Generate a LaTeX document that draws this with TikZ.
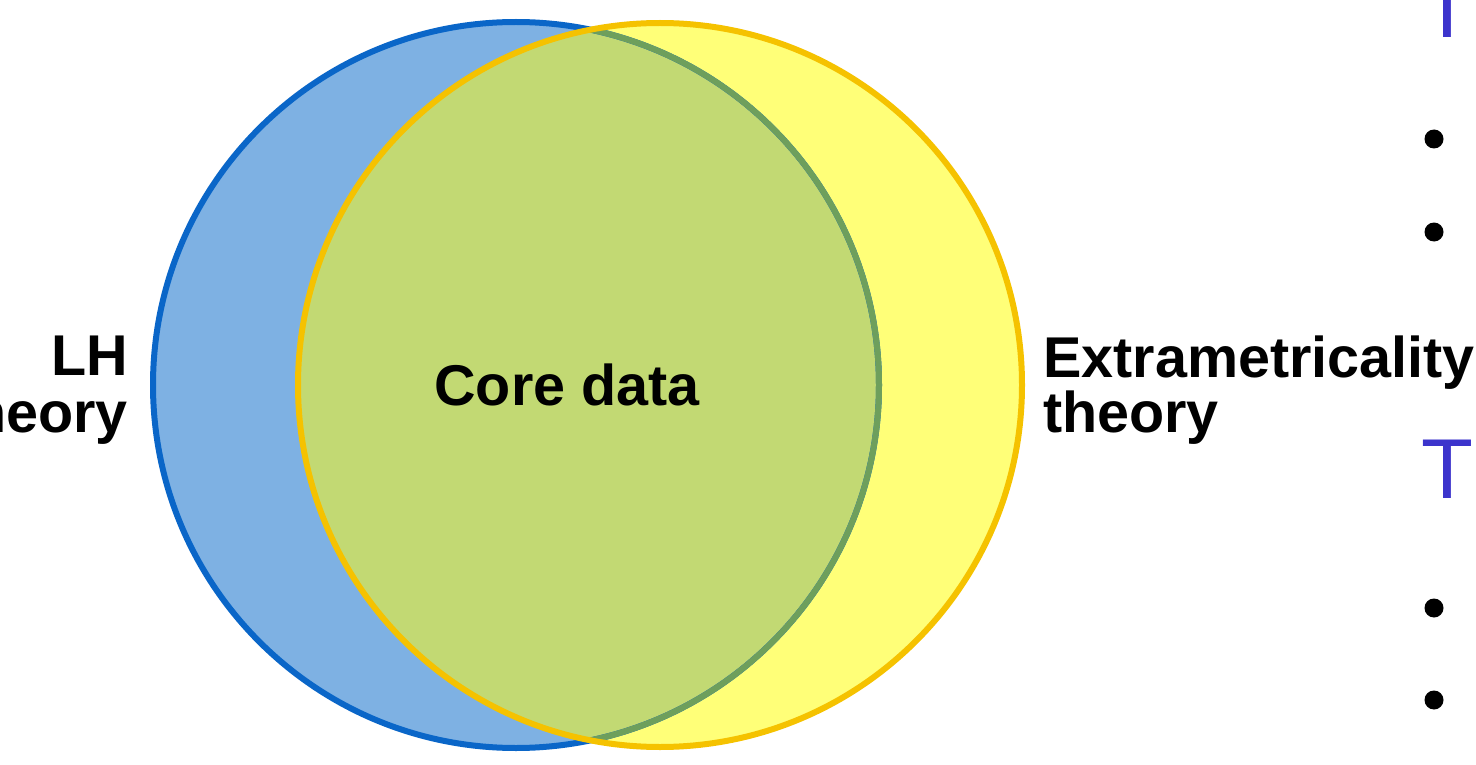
\documentclass[tikz,border=0pt]{standalone}
\usepackage{fontspec}
\setmainfont{Liberation Sans}
\definecolor{lhfill}{HTML}{7EB1E3}
\definecolor{lhline}{HTML}{0A66C8}
\definecolor{exfill}{HTML}{FFFF78}
\definecolor{exline}{HTML}{F5C200}
\definecolor{corefill}{HTML}{C2D973}
\definecolor{coreline}{HTML}{6E9F5C}
\definecolor{headblue}{HTML}{3C34CC}
\tikzset{
  label/.style={font=\bfseries\fontsize{57.5}{57}\selectfont, inner sep=0pt, text=black},
  heading/.style={font=\fontsize{85}{85}\selectfont, inner sep=0pt, text=headblue},
  bullet/.style={fill=black},
  ring/.style={line width=6pt},
}
\begin{document}
\begin{tikzpicture}[x=1pt,y=-1pt]
\useasboundingbox (0,0) rectangle (1476,765);
\coordinate (lh) at (516,385);
\coordinate (ex) at (660,385);
% the two theory sets
\fill[lhfill] (lh) circle[radius=363pt];
\fill[exfill] (ex) circle[radius=362pt];
% shared core region
\begin{scope}
  \clip (ex) circle[radius=362pt];
  \fill[corefill] (lh) circle[radius=363pt];
\end{scope}
% outlines
\draw[ring, lhline] (lh) circle[radius=363pt];
\begin{scope}
  \clip (ex) circle[radius=362pt];
  \draw[ring, coreline] (lh) circle[radius=363pt];
\end{scope}
\draw[ring, exline] (ex) circle[radius=362pt];
% labels
\node[label, anchor=base east] (lh1) at (128,375) {LH};
\node[label, anchor=base east] (lh2) at (128,432) {theory};
\node[label, anchor=base] (core) at (567,405) {Core data};
\node[label, anchor=base west] (ex1) at (1043,377) {Extrametricality};
\node[label, anchor=base west] (ex2) at (1043,432) {theory};
% side headings and bullets
\node[heading, anchor=base] (h1) at (1447,38) {T};
\node[heading, anchor=base] (h2) at (1447,498) {T};
\fill[bullet] (1434,139) circle[radius=9.5pt];
\fill[bullet] (1434,232) circle[radius=9.5pt];
\fill[bullet] (1434,608) circle[radius=9.5pt];
\fill[bullet] (1434,700) circle[radius=9.5pt];
\end{tikzpicture}
\end{document}
